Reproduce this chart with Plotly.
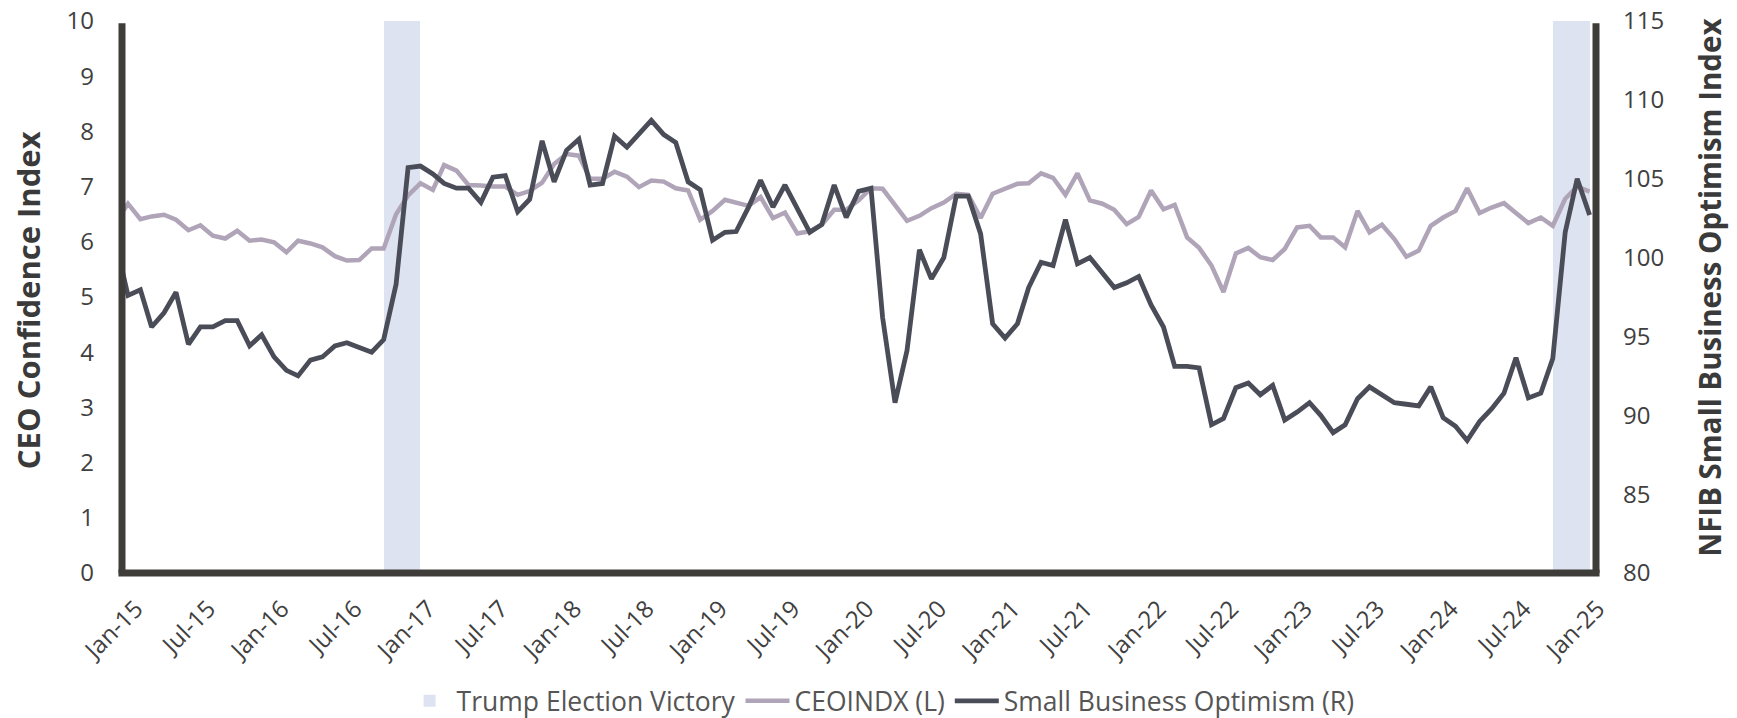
import pandas as pd
import plotly.graph_objects as go

# Monthly observations, Dec-2014 .. Jan-2025
start_month = "2014-12-01"
ceo_index = [6.35,
    6.69, 6.41, 6.46, 6.49, 6.40, 6.21, 6.30, 6.11, 6.06, 6.20,
    6.02, 6.04, 5.99, 5.81, 6.02, 5.97, 5.90, 5.74, 5.66, 5.67,
    5.88, 5.88, 6.50, 6.84, 7.06, 6.94, 7.39, 7.29, 7.03, 7.02,
    7.00, 7.00, 6.85, 6.92, 7.07, 7.41, 7.59, 7.56, 7.14, 7.14,
    7.27, 7.18, 6.99, 7.11, 7.09, 6.97, 6.93, 6.40, 6.56, 6.76,
    6.70, 6.65, 6.81, 6.43, 6.53, 6.15, 6.19, 6.31, 6.58, 6.58,
    6.75, 6.97, 6.96, 6.68, 6.38, 6.47, 6.61, 6.71, 6.87, 6.85,
    6.43, 6.87, 6.96, 7.05, 7.06, 7.24, 7.16, 6.85, 7.24, 6.75,
    6.69, 6.58, 6.32, 6.45, 6.93, 6.59, 6.67, 6.08, 5.89, 5.57,
    5.09, 5.79, 5.89, 5.72, 5.67, 5.87, 6.26, 6.29, 6.08, 6.08,
    5.90, 6.56, 6.17, 6.31, 6.05, 5.73, 5.84, 6.29, 6.44, 6.56,
    6.97, 6.52, 6.62, 6.70, 6.52, 6.34, 6.44, 6.29, 6.78, 7.00,
    6.91]
small_business_optimism = [101.0,
    97.6, 97.95, 95.6, 96.5, 97.8, 94.5, 95.6, 95.6, 96.0, 96.0,
    94.4, 95.1, 93.7, 92.85, 92.5, 93.5, 93.7, 94.4, 94.6, 94.3,
    94.0, 94.8, 98.3, 105.7, 105.8, 105.3, 104.7, 104.4, 104.4, 103.5,
    105.1, 105.2, 102.9, 103.7, 107.4, 104.8, 106.8, 107.5, 104.6, 104.7,
    107.7, 107.0, 107.8, 108.7, 107.8, 107.3, 104.8, 104.3, 101.1, 101.6,
    101.65, 103.2, 104.9, 103.2, 104.6, 103.1, 101.6, 102.1, 104.6, 102.55,
    104.2, 104.4, 96.2, 90.8, 94.1, 100.5, 98.65, 100.0, 103.9, 103.9,
    101.5, 95.8, 94.9, 95.8, 98.1, 99.7, 99.5, 102.4, 99.6, 100.0,
    99.0, 98.1, 98.4, 98.8, 97.0, 95.6, 93.1, 93.1, 93.0, 89.4,
    89.8, 91.75, 92.05, 91.3, 91.9, 89.7, 90.2, 90.8, 90.0, 88.9,
    89.4, 91.05, 91.8, 91.3, 90.8, 90.7, 90.6, 91.8, 89.85, 89.3,
    88.4, 89.6, 90.4, 91.4, 93.65, 91.1, 91.4, 93.6, 101.6, 105.0,
    102.7]
dates = pd.date_range(start_month, periods=len(ceo_index), freq="MS")

# Election shading periods
shade_start = ["2016-10-01", "2024-10-01"]
shade_end = ["2017-01-01", "2025-01-01"]
shade_height = [10, 10]

FONT = "Open Sans"
AXIS_C = "#3f3d39"
TXT_C = "#404040"

fig = go.Figure()

s0 = pd.to_datetime(shade_start)
s1 = pd.to_datetime(shade_end)
widths = [(b - a).total_seconds() * 1000 for a, b in zip(s0, s1)]
fig.add_trace(go.Bar(
    x=s0, y=shade_height, width=widths, offset=0,
    marker=dict(color="#dde3f0", line=dict(width=0)),
    name="Trump Election Victory", yaxis="y",
))
fig.add_trace(go.Scatter(
    x=dates, y=ceo_index, mode="lines", name="CEOINDX (L)",
    line=dict(color="#b0a5b8", width=4.5), yaxis="y",
))
fig.add_trace(go.Scatter(
    x=dates, y=small_business_optimism, mode="lines",
    name="Small Business Optimism (R)",
    line=dict(color="#4a4d57", width=4.8), yaxis="y2",
))

tick_font = dict(family=FONT, size=24, color=TXT_C)

fig.update_layout(
    width=1737, height=718,
    margin=dict(l=122, r=141, t=21, b=145, autoexpand=False),
    paper_bgcolor="white", plot_bgcolor="white",
    font=dict(family=FONT, color=TXT_C),
    bargap=0,
    showlegend=True,
    legend=dict(orientation="h", x=0.515, xanchor="center", y=-0.232,
                yanchor="middle", font=dict(family=FONT, size=26.5, color="#555555"),
                traceorder="normal", itemwidth=44),
    xaxis=dict(
        type="date",
        range=["2014-12-17", "2025-01-17"],
        tick0="2015-01-01", dtick="M6", tickformat="%b-%y",
        tickangle=-45, tickfont=dict(family=FONT, size=24, color=TXT_C),
        showgrid=False, zeroline=False, showline=False, ticks="",
        ticklabelstandoff=16, ticklabelshift=8, automargin=False,
    ),
    yaxis=dict(
        range=[0, 10], dtick=1, tick0=0,
        showgrid=False, zeroline=False, showline=False, ticks="",
        tickfont=tick_font, ticklabelstandoff=27, automargin=False,
    ),
    yaxis2=dict(
        range=[80, 115], dtick=5, tick0=80, overlaying="y", side="right",
        showgrid=False, zeroline=False, showline=False, ticks="",
        tickfont=tick_font, ticklabelstandoff=26, automargin=False,
    ),
    shapes=[
        dict(type="line", xref="paper", yref="paper", x0=0, x1=0, y0=0, y1=0.996,
             line=dict(color=AXIS_C, width=7), layer="above"),
        dict(type="line", xref="paper", yref="paper", x0=1, x1=1, y0=0, y1=0.996,
             line=dict(color=AXIS_C, width=7), layer="above"),
        dict(type="line", xref="paper", yref="paper", x0=-0.0024, x1=1.0024, y0=0, y1=0,
             line=dict(color=AXIS_C, width=7), layer="above"),
    ],
    annotations=[
        dict(text="CEO Confidence Index", xref="paper", yref="paper",
             x=-0.0642, y=0.495, xanchor="center", yanchor="middle", textangle=-90,
             showarrow=False, font=dict(family=FONT, size=31, weight=700, color="#3a3a3a")),
        dict(text="NFIB Small Business Optimism Index", xref="paper", yref="paper",
             x=1.0771, y=0.516, xanchor="center", yanchor="middle", textangle=-90,
             showarrow=False, font=dict(family=FONT, size=29.5, weight=700, color="#3a3a3a")),
    ],
)

fig.write_html("out.html", config={"displayModeBar": False},
               post_script="document.body.style.margin='0px';document.body.style.padding='0px';")
